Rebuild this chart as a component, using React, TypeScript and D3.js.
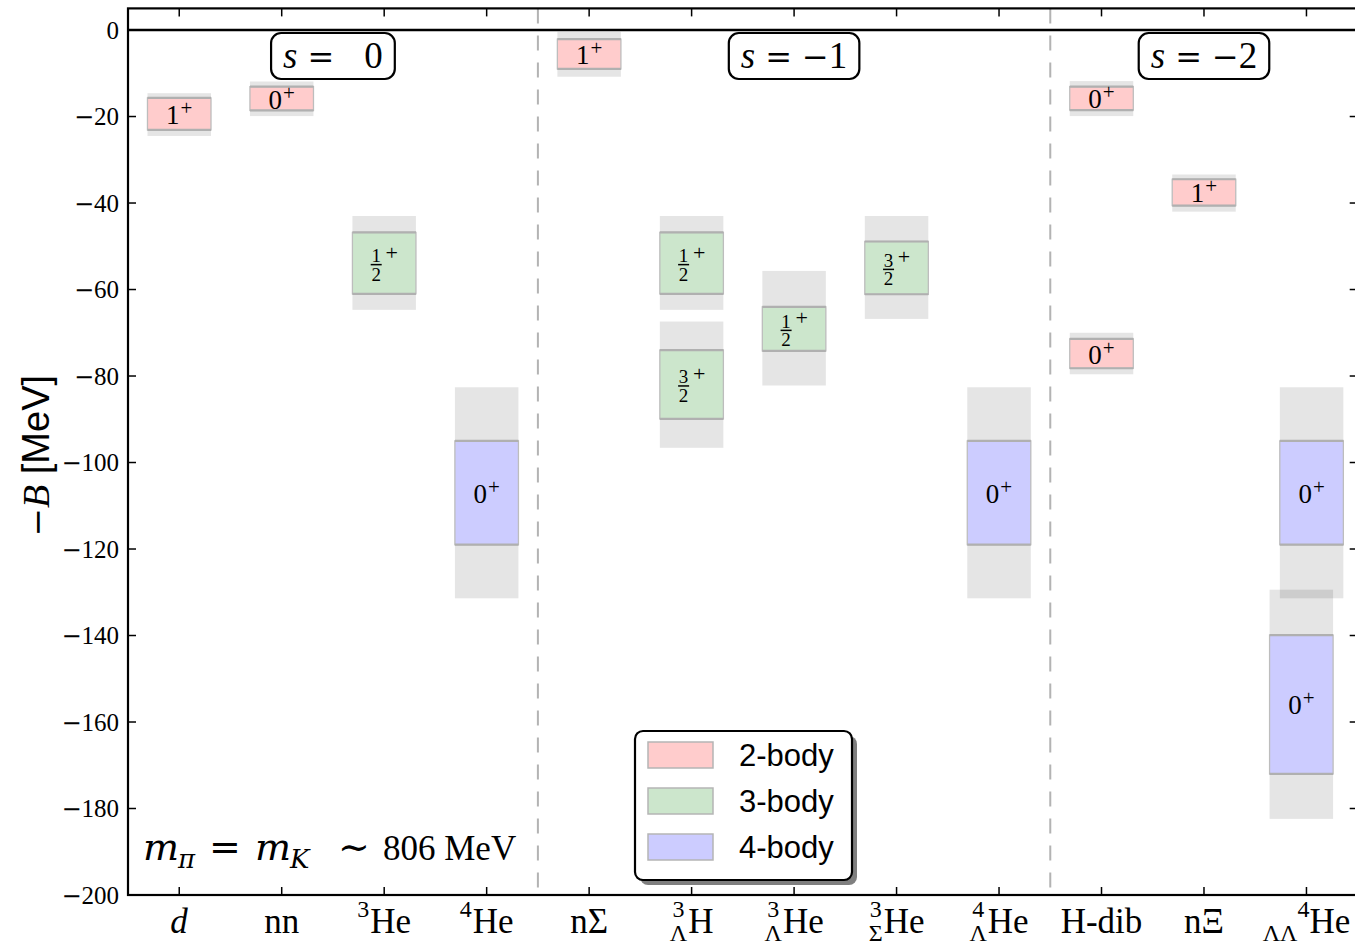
import React, { useEffect, useRef } from 'react';
import * as d3 from 'd3';

const W = 1355;
const H = 948;

const SERIF = '"Liberation Serif", "DejaVu Serif", serif';
const MATH = '"DejaVu Serif", "Liberation Serif", serif';
const SANS = '"Liberation Sans", Arial, sans-serif';

// Nuclei along the x axis (index = category position)
type NucleusLabel = { base: string; italic?: boolean; pre?: string; preSub?: string; inline?: boolean };
const nucleusLabels: NucleusLabel[] = [
  { base: 'd', italic: true },
  { base: 'nn' },
  { pre: '3', base: 'He' },
  { pre: '4', base: 'He' },
  { base: 'nΣ' },
  { pre: '3', preSub: 'Λ', base: 'H' },
  { pre: '3', preSub: 'Λ', base: 'He' },
  { pre: '3', preSub: 'Σ', base: 'He' },
  { pre: '4', preSub: 'Λ', base: 'He' },
  { base: 'H-dib' },
  { base: 'nΞ' },
  { preSub: 'ΛΛ', pre: '4', base: 'He', inline: true },
];

// Bound states: nucleus index, small horizontal shift, body count, J^P
const stateNucleus = [0, 1, 2, 3, 4, 5, 5, 6, 7, 8, 9, 9, 10, 11, 11];
const stateShift = [0, 0, 0, 0, 0, 0, 0, 0, 0, 0, 0, 0, 0, 0.05, -0.05];
const stateBody = [2, 2, 3, 4, 2, 3, 3, 3, 3, 4, 2, 2, 2, 4, 4];
const stateSpin = ['1', '0', '1/2', '0', '1', '1/2', '3/2', '1/2', '3/2', '0', '0', '0', '1', '0', '0'];

// -B in MeV: statistical band (inner) and total band (outer)
const innerTop = [-15.7, -13.1, -46.8, -95.0, -2.1, -46.8, -74.0, -64.0, -48.9, -95.0, -13.1, -71.4, -34.5, -95.0, -139.9];
const innerBottom = [-23.1, -18.6, -61.0, -119.0, -9.0, -61.0, -89.9, -74.2, -61.1, -119.0, -18.5, -78.2, -40.6, -119.0, -172.0];
const outerTop = [-14.6, -11.9, -43.0, -82.6, -0.4, -43.0, -67.4, -55.7, -43.0, -82.6, -11.8, -70.0, -33.4, -82.6, -129.4];
const outerBottom = [-24.5, -19.9, -64.7, -131.4, -10.8, -64.7, -96.6, -82.2, -66.8, -131.4, -19.9, -79.6, -42.0, -131.4, -182.4];

const yTicks = [0, -20, -40, -60, -80, -100, -120, -140, -160, -180, -200];

const bodyNames = ['2-body', '3-body', '4-body'];
const bodyColors: Record<number, string> = { 2: '#ffcccc', 3: '#cce6cc', 4: '#ccccff' };

// Strangeness sectors
const sectorValues = [0, -1, -2];
const sectorCenters = [1.5, 6, 10];
const sectorDividers = [3.5, 8.5];

export default function App() {
  const ref = useRef<SVGSVGElement | null>(null);

  useEffect(() => {
    const svg = d3.select(ref.current);
    svg.selectAll('*').remove();

    const left = 128;
    const right = 1357.7;
    const top = 8.4;
    const bottom = 895;
    const x = d3.scaleLinear().domain([-0.5, 11.5]).range([left, right]);
    const y = d3.scaleLinear().domain([-200, 5]).range([bottom, top]);
    const halfW = 0.31;

    const plot = svg.append('g');

    // total-uncertainty bands
    stateNucleus.forEach((n, i) => {
      const cx = n + stateShift[i];
      plot
        .append('rect')
        .attr('x', x(cx - halfW))
        .attr('width', x(cx + halfW) - x(cx - halfW))
        .attr('y', y(outerTop[i]))
        .attr('height', y(outerBottom[i]) - y(outerTop[i]))
        .attr('fill', '#000')
        .attr('fill-opacity', 0.1);
    });

    // statistical bands with labels
    stateNucleus.forEach((n, i) => {
      const cx = n + stateShift[i];
      const x0 = x(cx - halfW);
      const x1 = x(cx + halfW);
      const y0 = y(innerTop[i]);
      const y1 = y(innerBottom[i]);
      plot
        .append('rect')
        .attr('x', x0)
        .attr('width', x1 - x0)
        .attr('y', y0)
        .attr('height', y1 - y0)
        .attr('fill', bodyColors[stateBody[i]])
        .attr('stroke', '#bdbdbd')
        .attr('stroke-width', 1.3);
      [y0, y1].forEach((yy) =>
        plot
          .append('line')
          .attr('x1', x0)
          .attr('x2', x1)
          .attr('y1', yy)
          .attr('y2', yy)
          .attr('stroke', '#b0b0b0')
          .attr('stroke-width', 2.2)
      );

      const xc = x(cx);
      const c = (y0 + y1) / 2;
      const spin = stateSpin[i];
      if (spin.includes('/')) {
        const [num, den] = spin.split('/');
        const fx = xc - 8;
        plot
          .append('text')
          .attr('x', fx)
          .attr('y', c - 1)
          .attr('text-anchor', 'middle')
          .attr('font-family', SERIF)
          .attr('font-size', 19)
          .text(num);
        plot
          .append('line')
          .attr('x1', fx - 5.5)
          .attr('x2', fx + 5.5)
          .attr('y1', c + 1.5)
          .attr('y2', c + 1.5)
          .attr('stroke', '#000')
          .attr('stroke-width', 1.5);
        plot
          .append('text')
          .attr('x', fx)
          .attr('y', c + 17.5)
          .attr('text-anchor', 'middle')
          .attr('font-family', SERIF)
          .attr('font-size', 19)
          .text(den);
        plot
          .append('text')
          .attr('x', xc + 7.5)
          .attr('y', c - 3.5)
          .attr('text-anchor', 'middle')
          .attr('font-family', SERIF)
          .attr('font-size', 22)
          .text('+');
      } else {
        const t = plot
          .append('text')
          .attr('x', xc)
          .attr('y', c + 10)
          .attr('text-anchor', 'middle')
          .attr('font-family', SERIF)
          .attr('font-size', 27);
        t.append('tspan').text(spin);
        t.append('tspan').attr('font-size', 21).attr('dy', -9).attr('dx', 1).text('+');
      }
    });

    // sector dividers
    sectorDividers.forEach((d) =>
      plot
        .append('line')
        .attr('x1', x(d))
        .attr('x2', x(d))
        .attr('y1', top)
        .attr('y2', bottom)
        .attr('stroke', '#b3b3b3')
        .attr('stroke-width', 2)
        .attr('stroke-dasharray', '15,12')
    );

    // zero line
    plot
      .append('line')
      .attr('x1', left)
      .attr('x2', right)
      .attr('y1', y(0))
      .attr('y2', y(0))
      .attr('stroke', '#000')
      .attr('stroke-width', 2.6);

    // frame
    const axes = svg.append('g');
    axes
      .append('rect')
      .attr('x', left)
      .attr('y', top)
      .attr('width', right - left)
      .attr('height', bottom - top)
      .attr('fill', 'none')
      .attr('stroke', '#000')
      .attr('stroke-width', 2.2);

    const tickLen = 8;
    yTicks.forEach((v) => {
      const yy = y(v);
      axes.append('line').attr('x1', left).attr('x2', left + tickLen).attr('y1', yy).attr('y2', yy).attr('stroke', '#000').attr('stroke-width', 1.5);
      axes.append('line').attr('x1', right - tickLen).attr('x2', right).attr('y1', yy).attr('y2', yy).attr('stroke', '#000').attr('stroke-width', 1.5);
      const t = axes
        .append('text')
        .attr('x', left - 9)
        .attr('y', yy + 8.5)
        .attr('text-anchor', 'end')
        .attr('font-family', SERIF)
        .attr('font-size', 25);
      if (v < 0) t.append('tspan').attr('font-family', MATH).attr('font-size', 24).text('−');
      t.append('tspan').text(String(Math.abs(v)));
    });

    nucleusLabels.forEach((_, i) => {
      const xx = x(i);
      axes.append('line').attr('x1', xx).attr('x2', xx).attr('y1', top).attr('y2', top + tickLen).attr('stroke', '#000').attr('stroke-width', 1.5);
      axes.append('line').attr('x1', xx).attr('x2', xx).attr('y1', bottom).attr('y2', bottom - tickLen).attr('stroke', '#000').attr('stroke-width', 1.5);
    });

    // x tick labels built from base symbol plus pre-scripts
    const baseSize = 35;
    const scriptSize = 24;
    const baseline = 933;
    nucleusLabels.forEach((lab, i) => {
      const g = axes.append('g');
      let cursor = 0;
      const addText = (s: string, size: number, dy: number, xx: number, italic = false) => {
        const t = g
          .append('text')
          .attr('x', xx)
          .attr('y', baseline + dy)
          .attr('font-family', SERIF)
          .attr('font-size', size)
          .attr('font-style', italic ? 'italic' : 'normal')
          .text(s);
        return (t.node() as SVGTextElement).getComputedTextLength();
      };
      if (lab.inline) {
        cursor += addText(lab.preSub || '', scriptSize, 8, cursor);
        cursor += addText(lab.pre || '', scriptSize, -16, cursor);
      } else if (lab.pre || lab.preSub) {
        const supT = g
          .append('text')
          .attr('y', baseline - 16)
          .attr('font-family', SERIF)
          .attr('font-size', scriptSize)
          .attr('text-anchor', 'middle')
          .text(lab.pre || '');
        const subT = g
          .append('text')
          .attr('y', baseline + 8)
          .attr('font-family', SERIF)
          .attr('font-size', scriptSize)
          .attr('text-anchor', 'middle')
          .text(lab.preSub || '');
        const w = Math.max(
          (supT.node() as SVGTextElement).getComputedTextLength(),
          (subT.node() as SVGTextElement).getComputedTextLength()
        );
        supT.attr('x', w / 2);
        subT.attr('x', w / 2);
        cursor += w + 1;
      }
      addText(lab.base, baseSize, 0, cursor, !!lab.italic);
      const bb = (g.node() as SVGGElement).getBBox();
      g.attr('transform', `translate(${x(i) - (bb.x + bb.width / 2)},0)`);
    });

    // y axis title
    const yl = svg
      .append('text')
      .attr('transform', `translate(49,${(top + bottom) / 2 + 4}) rotate(-90)`)
      .attr('text-anchor', 'middle')
      .attr('font-size', 38);
    yl.append('tspan').attr('font-family', MATH).attr('font-size', 34).text('−');
    yl.append('tspan').attr('font-family', SERIF).attr('font-style', 'italic').text('B');
    yl.append('tspan').attr('font-family', SANS).text(' [MeV]');

    // strangeness sector tags
    sectorValues.forEach((s, i) => {
      const g = svg.append('g');
      const cx = x(sectorCenters[i]);
      const t = g
        .append('text')
        .attr('x', cx)
        .attr('y', 68)
        .attr('text-anchor', 'middle')
        .attr('font-family', SERIF)
        .attr('font-size', 37);
      t.append('tspan').attr('font-style', 'italic').text('s');
      t.append('tspan').attr('dx', 10).attr('font-family', MATH).attr('font-size', 32).text('=');
      if (s < 0) {
        t.append('tspan').attr('dx', 10).attr('font-family', MATH).attr('font-size', 32).text('−');
        t.append('tspan').text(String(-s));
      } else {
        t.append('tspan').attr('dx', 30).text(String(s));
      }
      const bb = (t.node() as SVGTextElement).getBBox();
      g.insert('rect', 'text')
        .attr('x', bb.x - 12)
        .attr('y', 33)
        .attr('width', bb.width + 24)
        .attr('height', 46)
        .attr('rx', 10)
        .attr('fill', '#fff')
        .attr('stroke', '#000')
        .attr('stroke-width', 2.2);
    });

    // pion / kaon mass annotation
    const my = 860;
    const mt = svg.append('g');
    const mpart = (xx: number, dy: number, size: number, s: string, family: string, italic = false) =>
      mt
        .append('text')
        .attr('x', xx)
        .attr('y', my + dy)
        .attr('font-family', family)
        .attr('font-size', size)
        .attr('font-style', italic ? 'italic' : 'normal')
        .text(s);
    mpart(143, 0, 38, 'm', MATH, true);
    mpart(178, 8, 26, 'π', MATH, true);
    mpart(209, 0, 38, '=', MATH);
    mpart(255, 0, 38, 'm', MATH, true);
    mpart(290, 8, 26, 'K', MATH, true);
    mpart(338, 0, 38, '∼', MATH);
    mpart(383, 0, 35, '806 MeV', SERIF);

    // legend
    const lg = svg.append('g');
    const lx = 635;
    const ly = 731;
    const lw = 217;
    const lh = 149;
    lg.append('rect').attr('x', lx + 5).attr('y', ly + 5).attr('width', lw).attr('height', lh).attr('rx', 8).attr('fill', '#000').attr('fill-opacity', 0.5);
    lg.append('rect').attr('x', lx).attr('y', ly).attr('width', lw).attr('height', lh).attr('rx', 8).attr('fill', '#fff').attr('stroke', '#000').attr('stroke-width', 2.2);
    bodyNames.forEach((name, i) => {
      const py = ly + 11 + i * 46;
      lg.append('rect')
        .attr('x', lx + 13)
        .attr('y', py)
        .attr('width', 65)
        .attr('height', 26)
        .attr('fill', bodyColors[i + 2])
        .attr('stroke', '#b5b5b5')
        .attr('stroke-width', 1.5);
      lg.append('text')
        .attr('x', lx + 104)
        .attr('y', py + 24)
        .attr('font-family', SANS)
        .attr('font-size', 31)
        .text(name);
    });
  }, []);

  return (
    <svg
      ref={ref}
      width={W}
      height={H}
      style={{ position: 'absolute', left: 0, top: 0, background: '#fff', overflow: 'hidden' }}
    />
  );
}
